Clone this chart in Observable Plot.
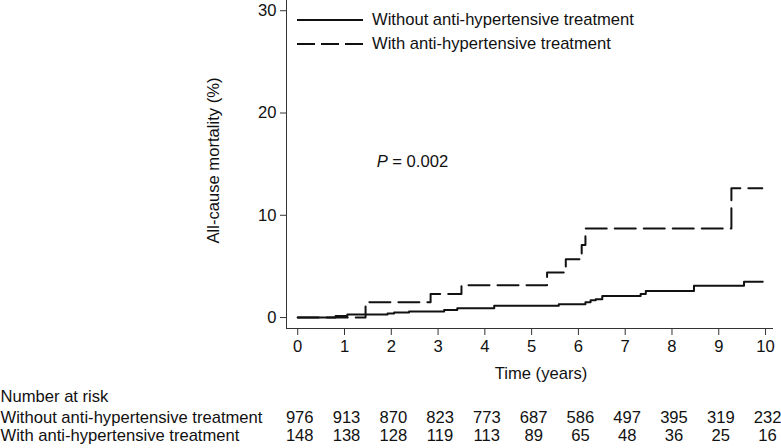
<!DOCTYPE html>
<html><head><meta charset="utf-8">
<script src="https://cdn.jsdelivr.net/npm/d3@7"></script>
<script src="https://cdn.jsdelivr.net/npm/@observablehq/plot@0.6"></script>
<style>
body{margin:0;background:#fff;font-family:"Liberation Sans",Arial,sans-serif}
#wrap{position:relative;width:781px;height:448px}
#legend{position:absolute;left:297px;top:8px;font-size:16.6px;color:#111;line-height:24px}
.row{display:flex;align-items:center;height:24px}
.row svg{margin-right:9px;display:block}
</style></head><body><div id="wrap"><div id="legend"></div></div>
<script>
const series = ["Without anti-hypertensive treatment", "With anti-hypertensive treatment"];
const timeWithout = [0, 0.81, 1.06, 1.92, 2.06, 2.38, 3.13, 3.41, 4.2, 5.58, 6.15, 6.26, 6.37, 6.51, 7.33, 7.44, 8.47, 9.54, 9.94];
const mortWithout = [0, 0.15, 0.3, 0.4, 0.5, 0.6, 0.75, 0.9, 1.15, 1.3, 1.5, 1.7, 1.8, 2.1, 2.3, 2.6, 3.1, 3.5, 3.5];
const timeWith = [0, 1.45, 2.84, 3.5, 5.33, 5.73, 6.07, 6.15, 9.27, 9.93];
const mortWith = [0, 1.5, 2.3, 3.15, 4.4, 5.7, 7.1, 8.7, 12.65, 12.65];
const riskTimes = [0, 1, 2, 3, 4, 5, 6, 7, 8, 9, 10];
const riskWithout = [976, 913, 870, 823, 773, 687, 586, 497, 395, 319, 232];
const riskWith = [148, 138, 128, 119, 113, 89, 65, 48, 36, 25, 16];
const xTicks = [0, 1, 2, 3, 4, 5, 6, 7, 8, 9, 10];
const yTicks = [0, 10, 20, 30];
const pValue = "0.002";

const xDomain = [-0.24, 10.17];
const yDomain = [-1.07, 31];
const dash = "21,8";
const ink = "#111";
const axisInk = "#333";
const fs = 16.6;

const data = [
  ...timeWithout.map((t, i) => ({t, m: mortWithout[i], s: series[0]})),
  ...timeWith.map((t, i) => ({t, m: mortWith[i], s: series[1]}))
];

const chart = Plot.plot({
  width: 781, height: 448,
  marginLeft: 286, marginRight: 8, marginTop: 0, marginBottom: 120,
  style: {fontFamily: "'Liberation Sans', Arial, sans-serif", fontSize: fs + "px", color: ink, background: "#fff", overflow: "visible"},
  x: {domain: xDomain},
  y: {domain: yDomain},
  marks: [
    Plot.ruleX([xDomain[0]], {stroke: axisInk, strokeWidth: 1}),
    Plot.ruleY([yDomain[0]], {stroke: axisInk, strokeWidth: 1}),
    Plot.axisY(yTicks, {tickSize: 6, tickPadding: 4, label: null, stroke: axisInk, fontSize: fs, fill: ink}),
    Plot.axisX(xTicks, {tickSize: 7, tickPadding: 5, label: null, stroke: axisInk, fontSize: fs, fill: ink}),
    Plot.line(data.filter(d => d.s === series[0]), {x: "t", y: "m", curve: "step-after", stroke: ink, strokeWidth: 2}),
    Plot.line(data.filter(d => d.s === series[1]), {x: "t", y: "m", curve: "step-after", stroke: ink, strokeWidth: 2, strokeDasharray: dash}),
    Plot.text(["All-cause mortality (%)"], {text: d => d, frameAnchor: "left", textAnchor: "middle", dx: -73, dy: -4, rotate: -90, fontSize: fs, fill: ink}),
    Plot.text([{x: 1.69, y: 15.2}], {x: "x", y: "y", text: () => "P", fontStyle: "italic", textAnchor: "start", fontSize: fs, fill: ink}),
    Plot.text([{x: 1.69, y: 15.2}], {x: "x", y: "y", text: () => "= " + pValue, dx: 15.5, textAnchor: "start", fontSize: fs, fill: ink}),
    Plot.text(["Time (years)"], {text: d => d, frameAnchor: "bottom", textAnchor: "middle", dx: 11, dy: 50, fontSize: fs, fill: ink}),
    Plot.text(["Number at risk"], {text: d => d, frameAnchor: "bottom-left", dx: -286, dy: 73, textAnchor: "start", fontSize: fs, fill: ink}),
    Plot.text([series[0]], {text: d => d, frameAnchor: "bottom-left", dx: -286, dy: 94, textAnchor: "start", fontSize: fs, fill: ink}),
    Plot.text([series[1]], {text: d => d, frameAnchor: "bottom-left", dx: -286, dy: 112.5, textAnchor: "start", fontSize: fs, fill: ink}),
    Plot.text(riskTimes, {x: d => d, text: (d, i) => String(riskWithout[i]), frameAnchor: "bottom", textAnchor: "middle", dx: 2, dy: 94, fontSize: fs, fill: ink}),
    Plot.text(riskTimes, {x: d => d, text: (d, i) => String(riskWith[i]), frameAnchor: "bottom", textAnchor: "middle", dx: 2, dy: 112.5, fontSize: fs, fill: ink})
  ]
});
const wrap = document.getElementById("wrap");
wrap.insertBefore(chart, wrap.firstChild);

const legend = document.getElementById("legend");
series.forEach((s, i) => {
  const row = document.createElement("div");
  row.className = "row";
  row.innerHTML = `<svg width="66" height="4"><line x1="0" x2="66" y1="2" y2="2" stroke="${ink}" stroke-width="2" ${i ? `stroke-dasharray="18,6"` : ""}/></svg><span>${s}</span>`;
  legend.appendChild(row);
});
</script></body></html>
